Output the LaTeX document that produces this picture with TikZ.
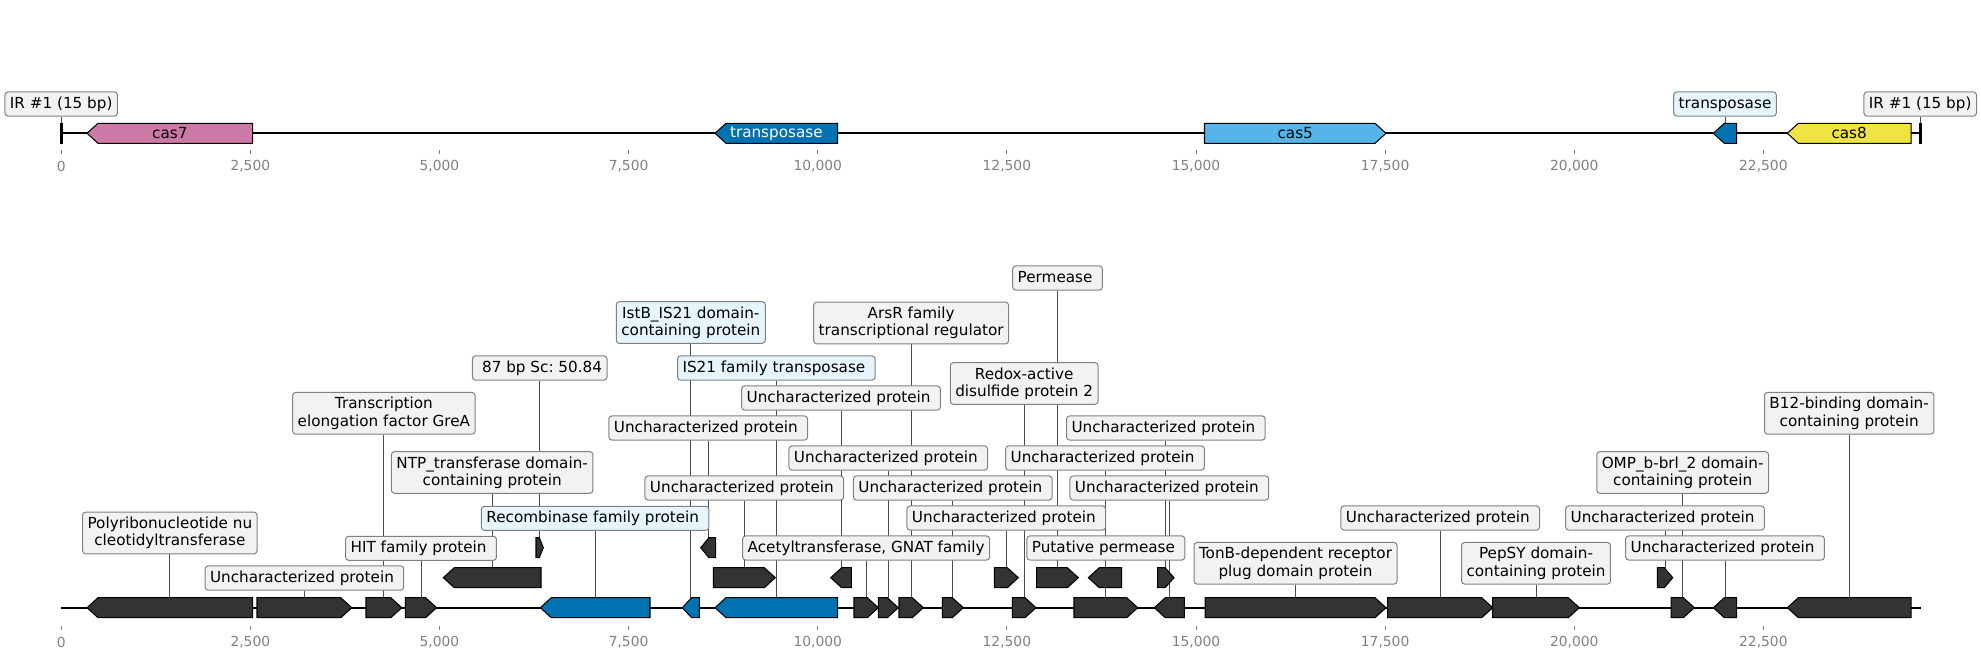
\documentclass[tikz,border=0pt]{standalone}
\usepackage{fontspec}
\setmainfont{DejaVu Sans}
\frenchspacing
\usetikzlibrary{backgrounds}
\definecolor{dk}{RGB}{51,51,51}
\definecolor{bl}{RGB}{0,114,178}
\definecolor{pk}{RGB}{204,121,167}
\definecolor{sk}{RGB}{86,180,233}
\definecolor{yl}{RGB}{240,228,66}
\definecolor{lg}{RGB}{242,242,242}
\definecolor{lb}{RGB}{230,245,252}
\definecolor{bd}{RGB}{128,128,128}
\definecolor{tk}{RGB}{128,128,128}
\definecolor{cn}{RGB}{75,75,75}
\tikzset{
  genebox/.style={draw=black, line width=0.75pt, line join=miter},
  lab/.style={draw=bd, line width=0.72pt, rounded corners=2.2pt, inner xsep=3.6pt, inner ysep=3.2pt,
    align=center, font=\fontsize{11}{12.5}\selectfont\frenchspacing, text height=8.4pt, text depth=2.6pt},
  labtwo/.style={lab, text height=21.1pt, text depth=2.6pt},
  conn/.style={draw=cn, line width=0.65pt},
  backbone/.style={draw=black, line width=1.6pt},
  tickmark/.style={draw=tk, line width=0.6pt},
  ticklab/.style={text=tk, font=\fontsize{10}{12}\selectfont, inner sep=0pt},
  intext/.style={font=\fontsize{11}{12.5}\selectfont, inner sep=0pt},
}
\newcommand\gene[6]{%
  \pgfmathsetmacro\gw{#3-#2}%
  \pgfmathsetmacro\gh{min(11,0.55*\gw)}%
  \pgfmathsetmacro\gt{#4-10}%
  \pgfmathsetmacro\gb{#4+10}%
  \pgfmathsetmacro\gc{(#2+#3)/2}%
  \expandafter\xdef\csname gx#1\endcsname{\gc}%
  \if#5R%
    \pgfmathsetmacro\gk{#3-\gh}%
    \draw[genebox,fill=#6] (#2,\gt) -- (\gk,\gt) -- (#3,#4) -- (\gk,\gb) -- (#2,\gb) -- cycle;
  \else
    \pgfmathsetmacro\gk{#2+\gh}%
    \draw[genebox,fill=#6] (#3,\gt) -- (\gk,\gt) -- (#2,#4) -- (\gk,\gb) -- (#3,\gb) -- cycle;
  \fi
  \coordinate (#1) at (\gc,\gt);
}
\newcommand\lab[4]{%
  \edef\lx{\csname gx#1\endcsname}%
  \node[lab,fill=#3] (L#1) at (\lx,#2) {#4};
  \begin{pgfonlayer}{background}\draw[conn] (L#1) -- (#1);\end{pgfonlayer}
}
\newcommand\labb[4]{%
  \edef\lx{\csname gx#1\endcsname}%
  \node[labtwo,fill=#3] (L#1) at (\lx,#2) {#4};
  \begin{pgfonlayer}{background}\draw[conn] (L#1) -- (#1);\end{pgfonlayer}
}
\begin{document}
\begin{tikzpicture}[x=0.7227pt,y=-0.7227pt]
\useasboundingbox (0,0) rectangle (1981,659);
% ---------------- top track ----------------
\coordinate (tA) at (61.2,133.3);
\coordinate (tB) at (1920.2,133.3);
\draw[backbone] (tA) -- (tB);
\foreach \k/\t in {0/0,1/{2,500},2/{5,000},3/{7,500},4/{10,000},5/{12,500},6/{15,000},7/{17,500},8/{20,000},9/{22,500}}{
  \pgfmathsetmacro\tx{61.2+\k*189.13}
  \draw[tickmark] (\tx,149.5) -- (\tx,154);
  \node[ticklab] (ttl\k) at (\tx,166) {\t};
}
\node[draw=black, fill=black, line width=0.4pt, minimum width=1.2pt, minimum height=14.4pt, inner sep=0pt] (ir1) at (tA) {};
\node[draw=black, fill=black, line width=0.4pt, minimum width=1.2pt, minimum height=14.4pt, inner sep=0pt] (ir2) at (tB) {};
\gene{t1}{87}{252.7}{133.3}{L}{pk}
\node[intext] (t1x) at (\csname gxt1\endcsname,133.3) {cas7};
\gene{t2}{715}{837.7}{133.3}{L}{bl}
\node[intext,text=white] (t2x) at (\csname gxt2\endcsname,133.3) {transposase};
\gene{t3}{1204.5}{1386}{133.3}{R}{sk}
\node[intext] (t3x) at (\csname gxt3\endcsname,133.3) {cas5};
\gene{t4}{1713.3}{1736.7}{133.3}{L}{bl}
\gene{t5}{1787.3}{1911}{133.3}{L}{yl}
\node[intext] (t5x) at (\csname gxt5\endcsname,133.3) {cas8};
\node[lab,fill=lg] (Lir1) at (61.2,104) {IR \#1 (15 bp)};
\node[lab,fill=lg] (Lir2) at (1920.2,104) {IR \#1 (15 bp)};
\begin{pgfonlayer}{background}
\draw[conn] (Lir1) -- (ir1.north);
\draw[conn] (Lir2) -- (ir2.north);
\end{pgfonlayer}
\lab{t4}{104}{lb}{transposase}
% ---------------- bottom track ----------------
\coordinate (bA) at (61.2,607.7);
\coordinate (bB) at (1921,607.7);
\draw[backbone] (bA) -- (bB);
\foreach \k/\t in {0/0,1/{2,500},2/{5,000},3/{7,500},4/{10,000},5/{12,500},6/{15,000},7/{17,500},8/{20,000},9/{22,500}}{
  \pgfmathsetmacro\tx{61.2+\k*189.13}
  \draw[tickmark] (\tx,625.5) -- (\tx,630);
  \node[ticklab] (btl\k) at (\tx,642.3) {\t};
}
% main row
\gene{m1}{87}{252.7}{607.7}{L}{dk}
\gene{m2}{257}{351.8}{607.7}{R}{dk}
\gene{m3}{366}{401.8}{607.7}{R}{dk}
\gene{m4}{405.4}{436.6}{607.7}{R}{dk}
\gene{m5}{540.3}{650}{607.7}{L}{bl}
\gene{m6}{682.3}{699.3}{607.7}{L}{bl}
\gene{m7}{715}{837.7}{607.7}{L}{bl}
\gene{m8}{854}{878.3}{607.7}{R}{dk}
\gene{m9}{878.3}{898.3}{607.7}{R}{dk}
\gene{m10}{899}{923.3}{607.7}{R}{dk}
\gene{m11}{942.3}{963.3}{607.7}{R}{dk}
\gene{m12}{1012.3}{1036}{607.7}{R}{dk}
\gene{m13}{1074}{1137.7}{607.7}{R}{dk}
\gene{m14}{1154.3}{1184.3}{607.7}{L}{dk}
\gene{m15}{1205}{1386}{607.7}{R}{dk}
\gene{m16}{1387.7}{1492.7}{607.7}{R}{dk}
\gene{m17}{1492.7}{1579.3}{607.7}{R}{dk}
\gene{m18}{1671}{1694.3}{607.7}{R}{dk}
\gene{m19}{1713.3}{1736.7}{607.7}{L}{dk}
\gene{m20}{1787.3}{1911}{607.7}{L}{dk}
% second row
\gene{ga}{443.3}{541}{577.7}{L}{dk}
\gene{gb}{713.3}{775.3}{577.7}{R}{dk}
\gene{gc}{830.7}{851.3}{577.7}{L}{dk}
\gene{gd}{994.3}{1018.3}{577.7}{R}{dk}
\gene{ge}{1036.7}{1078.3}{577.7}{R}{dk}
\gene{gf}{1088.3}{1121.7}{577.7}{L}{dk}
\gene{gg}{1157.7}{1174}{577.7}{R}{dk}
\gene{gh}{1657.3}{1672.7}{577.7}{R}{dk}
% third row
\gene{gi}{536}{543.3}{547.7}{R}{dk}
\gene{gj}{700.7}{715.7}{547.7}{L}{dk}
% labels
\labb{m1}{533}{lg}{Polyribonucleotide nu\\cleotidyltransferase}
\lab{m2}{578}{lg}{Uncharacterized protein~}
\labb{m3}{413.3}{lg}{Transcription\\elongation factor GreA}
\lab{m4}{548.3}{lg}{HIT family protein~}
\lab{m5}{518.3}{lb}{Recombinase family protein~}
\labb{m6}{322.5}{lb}{IstB\_IS21 domain-\\containing protein}
\lab{m7}{368}{lb}{IS21 family transposase~}
\lab{m8}{548}{lg}{Acetyltransferase, GNAT family}
\lab{m9}{458}{lg}{Uncharacterized protein~}
\labb{m10}{323}{lg}{ArsR family\\transcriptional regulator}
\lab{m11}{488}{lg}{Uncharacterized protein~}
\labb{m12}{383.5}{lg}{Redox-active\\disulfide protein 2}
\lab{m13}{548}{lg}{Putative permease~}
\lab{m14}{488}{lg}{Uncharacterized protein~}
\labb{m15}{563.3}{lg}{TonB-dependent receptor\\plug domain protein}
\lab{m16}{518}{lg}{Uncharacterized protein~}
\labb{m17}{563.3}{lg}{PepSY domain-\\containing protein}
\labb{m18}{472.5}{lg}{OMP\_b-brl\_2 domain-\\containing protein}
\lab{m19}{548}{lg}{Uncharacterized protein~}
\labb{m20}{413.3}{lg}{B12-binding domain-\\containing protein}
\labb{ga}{472.5}{lg}{NTP\_transferase domain-\\containing protein}
\lab{gb}{488}{lg}{Uncharacterized protein~}
\lab{gc}{398}{lg}{Uncharacterized protein~}
\lab{gd}{518}{lg}{Uncharacterized protein~}
\lab{ge}{278}{lg}{Permease~}
\lab{gf}{458}{lg}{Uncharacterized protein~}
\lab{gg}{428}{lg}{Uncharacterized protein~}
\lab{gh}{518}{lg}{Uncharacterized protein~}
\lab{gi}{368}{lg}{~87 bp Sc: 50.84}
\lab{gj}{428}{lg}{Uncharacterized protein~}
\end{tikzpicture}
\end{document}
